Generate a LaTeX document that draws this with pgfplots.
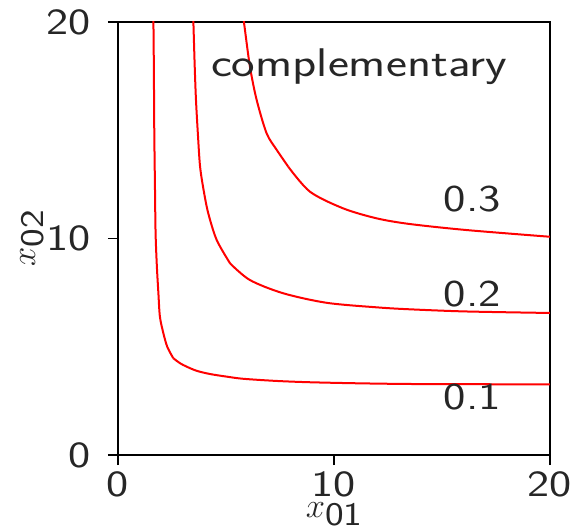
\documentclass[border=0pt]{standalone}
\usepackage{fontspec}
\usepackage{pgfplots}
\pgfplotsset{compat=1.18}

\definecolor{txt}{HTML}{262626}
\newcommand\lbl{\sffamily}
% subscript of the axis labels
\newcommand\sub[1]{\raisebox{-4pt}{\scalebox{1.2}[1]{\lbl\fontsize{16.5}{18}\selectfont #1}}}

\begin{document}
\begin{tikzpicture}
\begin{axis}[
  scale only axis,
  width=216pt, height=216.5pt,
  xmin=0, xmax=20, ymin=0, ymax=20,
  xtick={0,10,20}, ytick={0,10,20},
  xticklabels={0,10,20}, yticklabels={0,10,20},
  tick pos=left,
  tick align=outside,
  major tick length=5pt,
  every tick/.style={black, line width=0.6pt},
  axis line style={black, line width=0.6pt},
  xticklabel style={font=\lbl\fontsize{18.5}{21}\selectfont, text=txt, anchor=north, inner sep=0pt, xscale=1.27, yshift=-3pt},
  yticklabel style={font=\lbl\fontsize{18.5}{21}\selectfont, text=txt, anchor=east, inner sep=0pt, xscale=1.27, xshift=-6.5pt},
  xlabel={$x$\sub{01}},
  ylabel={$x$\sub{02}},
  xlabel style={font=\fontsize{18}{20}\selectfont, text=txt, at={(axis description cs:0.5,0)}, anchor=north, inner sep=0pt, yshift=-23.5pt},
  ylabel style={font=\fontsize{18}{20}\selectfont, text=txt, at={(axis description cs:0,0.5)}, anchor=center, inner sep=0pt, yshift=43pt},
]
% level 0.1
\addplot[red, line width=1pt, smooth, tension=0.5] coordinates {
  (1.63,20.5) (1.64,20) (1.66,17.9) (1.68,14.9) (1.71,12.5) (1.74,10.25)
  (1.80,8.7) (1.87,7.48) (1.94,6.39) (2.10,5.63) (2.28,5.00) (2.56,4.47)
};
\addplot[red, line width=1pt, smooth, tension=0.5] coordinates {
  (2.56,4.47) (2.87,4.24) (3.18,4.08) (3.64,3.89) (4.26,3.74) (5.03,3.62) (5.80,3.52)
  (7.35,3.42) (8.89,3.36) (11.2,3.31) (13.5,3.28) (16.5,3.27) (20,3.26)
};
% level 0.2
\addplot[red, line width=1pt, smooth, tension=0.5] coordinates {
  (3.47,20.5) (3.49,20) (3.55,18) (3.61,16.4) (3.70,14.8) (3.80,13.32)
  (3.97,12.2) (4.18,11.16) (4.57,9.93) (5.19,8.85)
};
\addplot[red, line width=1pt, smooth, tension=0.5] coordinates {
  (5.19,8.85) (6.11,8.08) (7.65,7.47)
  (9.66,7.03) (11.98,6.82) (13.5,6.73) (16.1,6.63) (20,6.56)
};
% level 0.3
\addplot[red, line width=1pt, smooth, tension=0.5] coordinates {
  (5.76,20.5) (5.83,20) (6.11,17.93) (6.42,16.4) (6.88,14.86) (7.35,14.09) (7.88,13.32)
};
\addplot[red, line width=1pt, smooth, tension=0.5] coordinates {
  (7.88,13.32) (8.89,12.16) (10.43,11.39) (11.98,10.93) (13.5,10.67) (16.14,10.39) (20,10.08)
};
\node[anchor=base, text=txt, font=\lbl\fontsize{20}{22}\selectfont, inner sep=0pt, xscale=1.25] at (axis cs:11.16,17.47) {complementary};
\node[anchor=base, text=txt, font=\lbl\fontsize{19}{21}\selectfont, inner sep=0pt, xscale=1.25] at (axis cs:16.4,11.24) {0.3};
\node[anchor=base, text=txt, font=\lbl\fontsize{19}{21}\selectfont, inner sep=0pt, xscale=1.25] at (axis cs:16.4,6.85) {0.2};
\node[anchor=base, text=txt, font=\lbl\fontsize{19}{21}\selectfont, inner sep=0pt, xscale=1.25] at (axis cs:16.4,2.08) {0.1};
\end{axis}
\pgfresetboundingbox
\path[use as bounding box] (-59pt,-37.5pt) rectangle (227.5pt,227.5pt);
\end{tikzpicture}
\end{document}
